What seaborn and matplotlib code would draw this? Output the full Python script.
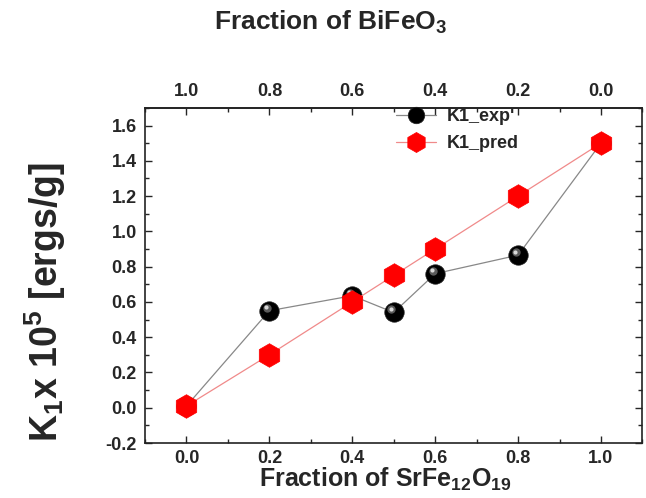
import matplotlib
matplotlib.use("Agg")
import matplotlib.pyplot as plt
import matplotlib.transforms as mtransforms
import seaborn as sns
import pandas as pd
from matplotlib.ticker import MultipleLocator

fraction_srfe = [0.0, 0.2, 0.4, 0.5, 0.6, 0.8, 1.0]
k1_exp = [0.01, 0.55, 0.635, 0.54, 0.76, 0.865, 1.5]
k1_pred = [0.01, 0.30, 0.60, 0.75, 0.90, 1.20, 1.50]
x_ticks = [0.0, 0.2, 0.4, 0.6, 0.8, 1.0]
y_ticks = [-0.2, 0.0, 0.2, 0.4, 0.6, 0.8, 1.0, 1.2, 1.4, 1.6]

sns.set_style("ticks")
plt.rcParams['font.family'] = ['Liberation Sans', 'DejaVu Sans']
plt.rcParams['font.weight'] = 'bold'
plt.rcParams['mathtext.fontset'] = 'custom'
plt.rcParams['mathtext.rm'] = 'Liberation Sans:bold'
plt.rcParams['mathtext.bf'] = 'Liberation Sans:bold'
plt.rcParams['mathtext.it'] = 'Liberation Sans:bold'
plt.rcParams['mathtext.default'] = 'bf'

df = pd.DataFrame({"x": fraction_srfe, "exp": k1_exp, "pred": k1_pred})

fig = plt.figure(figsize=(6.46, 4.98), dpi=100)
ax = fig.add_axes([0.2245, 0.1104, 0.770, 0.673])

sns.lineplot(data=df, x="x", y="exp", ax=ax, color="#888888", lw=0.9,
             marker="o", markersize=14, markerfacecolor="black",
             markeredgecolor="#222222", markeredgewidth=0.5, label="K1_exp'", zorder=3)
# sphere highlight
hl1 = mtransforms.offset_copy(ax.transData, fig=fig, x=-2.5, y=3, units='dots')
ax.plot(df["x"], df["exp"], linestyle="none", marker="o", markersize=6,
        markerfacecolor="#5a5a5a", markeredgewidth=0, transform=hl1, zorder=3.4)
hl2 = mtransforms.offset_copy(ax.transData, fig=fig, x=-3, y=3.5, units='dots')
ax.plot(df["x"], df["exp"], linestyle="none", marker="o", markersize=3,
        markerfacecolor="#d8d8d8", markeredgewidth=0, transform=hl2, zorder=3.5)
sns.lineplot(data=df, x="x", y="pred", ax=ax, color="#f08a8a", lw=0.9,
             marker="h", markersize=17, markerfacecolor="#ff0000",
             markeredgecolor="#ff0000", markeredgewidth=0.5, label="K1_pred", zorder=4)

ax.set_xlim(-0.1, 1.1)
ax.set_ylim(-0.2, 1.7)
ax.set_xticks(x_ticks)
ax.set_yticks(y_ticks)
ax.xaxis.set_minor_locator(MultipleLocator(0.1))
ax.yaxis.set_minor_locator(MultipleLocator(0.1))
ax.set_xticklabels([f"{v:.1f}" for v in x_ticks], fontsize=13, fontweight='bold')
ax.set_yticklabels([f"{v:.1f}" for v in y_ticks], fontsize=13, fontweight='bold')
ax.tick_params(which='both', direction='in', right=True, top=False, width=1.0)
ax.tick_params(which='major', length=5, pad=6)
ax.tick_params(axis='x', which='major', pad=5)
ax.tick_params(which='minor', length=3)
for s in ax.spines.values():
    s.set_visible(True)
    s.set_linewidth(1.2)
    s.set_color("#222222")

ax.set_xlabel(r"Fraction of SrFe$_{12}$O$_{19}$", fontsize=18, fontweight='bold')
ax.xaxis.set_label_coords(0.483, -0.067)
ax.set_ylabel(r"K$_{1}$x 10$^{5}$ [ergs/g]", fontsize=27, fontweight='bold')
ax.yaxis.set_label_coords(-0.155, 0.42)

sec = ax.secondary_xaxis('top', functions=(lambda v: 1 - v, lambda v: 1 - v))
sec.set_xticks(x_ticks)
sec.set_xticklabels([f"{v:.1f}" for v in x_ticks], fontsize=13, fontweight='bold')
sec.xaxis.set_minor_locator(MultipleLocator(0.1))
sec.tick_params(which='both', direction='in', width=1.0)
sec.tick_params(which='major', length=5, pad=6)
sec.tick_params(which='minor', length=3)
sec.spines['top'].set_linewidth(1.2)
sec.set_xlabel(r"Fraction of BiFeO$_{3}$", fontsize=19, fontweight='bold', labelpad=38)
sec.xaxis.label.set_x(0.374)

leg = ax.legend(loc='upper left', bbox_to_anchor=(0.472, 1.048), frameon=False,
                fontsize=13, handlelength=2.2, handletextpad=0.6, labelspacing=0.55,
                markerscale=0.85)
for t in leg.get_texts():
    t.set_fontweight('bold')

fig.savefig("out.png", dpi=100)
